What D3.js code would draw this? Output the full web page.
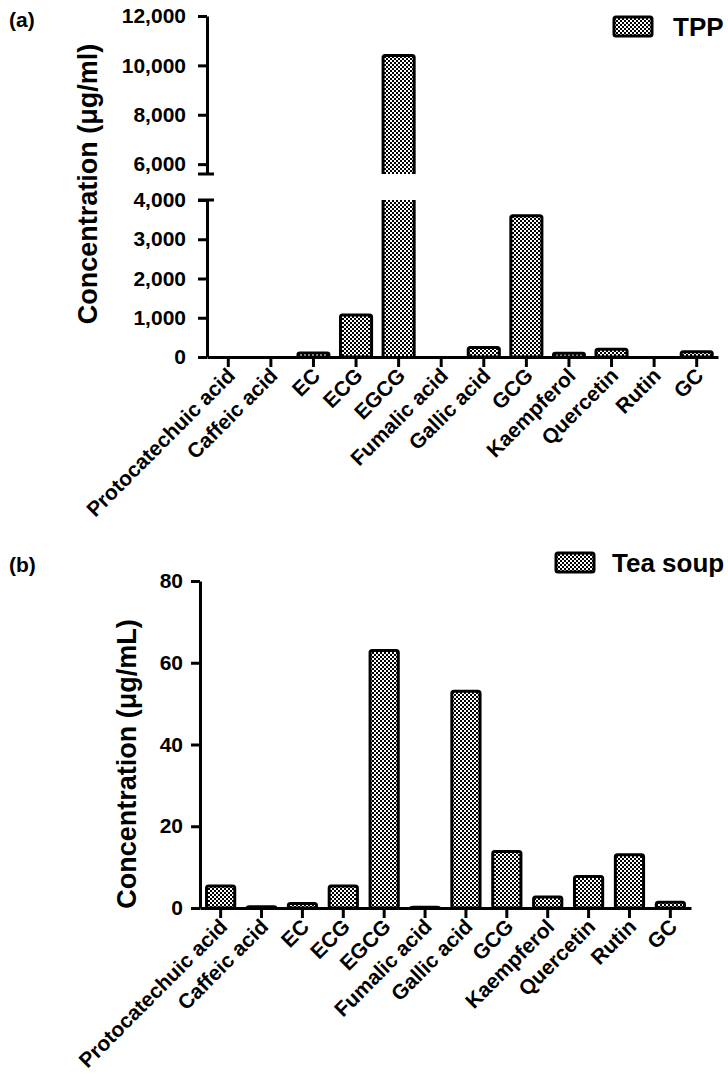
<!DOCTYPE html>
<html>
<head>
<meta charset="utf-8">
<script src="https://cdn.jsdelivr.net/npm/d3@7"></script>
<style>
  body { margin: 0; background: #fff; }
  svg text { font-family: "Liberation Sans", Arial, sans-serif; font-weight: bold; fill: #000; }
</style>
</head>
<body>
<svg id="chart" width="728" height="1074"></svg>
<script>
// compounds on the x axis (same for both panels)
const categories = ["Protocatechuic acid", "Caffeic acid", "EC", "ECG", "EGCG", "Fumalic acid",
  "Gallic acid", "GCG", "Kaempferol", "Quercetin", "Rutin", "GC"];

// panel (a) TPP, µg/ml
const tppValues = [0, 0, 100, 1070, 10400, 0, 240, 3600, 95, 200, 0, 135];
const tppLowTicks = [0, 1000, 2000, 3000, 4000];
const tppHighTicks = [6000, 8000, 10000, 12000];

// panel (b) tea soup, µg/mL
const soupValues = [5.4, 0.3, 1.1, 5.4, 63, 0.2, 53, 13.8, 2.7, 7.7, 13.0, 1.4];
const soupTicks = [0, 20, 40, 60, 80];

const svg = d3.select("#chart");
const fmt = d3.format(",");

// checkered fill used by bars and legend swatches
const pat = svg.append("defs").append("pattern")
  .attr("id", "checker")
  .attr("width", 4).attr("height", 4)
  .attr("patternUnits", "userSpaceOnUse");
pat.append("rect").attr("width", 4).attr("height", 4).attr("fill", "#fff");
pat.append("rect").attr("width", 2).attr("height", 2).attr("fill", "#000");
pat.append("rect").attr("x", 2).attr("y", 2).attr("width", 2).attr("height", 2).attr("fill", "#000");

function styleAxis(g) {
  g.selectAll(".domain").attr("stroke", "#000").attr("stroke-width", 3);
  g.selectAll(".tick line").attr("stroke", "#000").attr("stroke-width", 3);
  g.selectAll(".tick text").style("font-size", "21px");
}

function xLabels(g, x, y0) {
  g.selectAll(".xlab")
    .data(categories)
    .enter()
    .append("text")
    .attr("class", "xlab")
    .attr("transform", d => `translate(${x(d) + x.bandwidth() / 2 + 8},${y0 + 20}) rotate(-45)`)
    .attr("text-anchor", "end")
    .style("font-size", "21px")
    .text(d => d);
}

// ---------- panel (a) with broken y axis ----------
const a = svg.append("g");
const xA = d3.scaleBand().domain(categories).range([207, 718]).paddingInner(0.27).paddingOuter(0.135);
const yLow = d3.scaleLinear().domain([0, 4000]).range([357, 200]);
const yHigh = d3.scaleLinear().domain([5600, 12000]).range([174, 16]);

// bars
tppValues.forEach((v, i) => {
  const x0 = xA(categories[i]);
  const w = xA.bandwidth();
  if (v <= 4000) {
    a.append("rect")
      .attr("x", x0).attr("y", yLow(v))
      .attr("width", w).attr("height", yLow(0) - yLow(v))
      .attr("rx", 2)
      .attr("fill", "url(#checker)")
      .attr("stroke", "#000").attr("stroke-width", 3);
  } else {
    // lower piece, open at the top
    a.append("rect")
      .attr("x", x0).attr("y", yLow(4000))
      .attr("width", w).attr("height", yLow(0) - yLow(4000))
      .attr("fill", "url(#checker)");
    a.append("path")
      .attr("d", `M${x0},${yLow(4000)}V${yLow(0)}M${x0 + w},${yLow(4000)}V${yLow(0)}`)
      .attr("stroke", "#000").attr("stroke-width", 3).attr("fill", "none");
    // upper piece, open at the bottom
    a.append("rect")
      .attr("x", x0).attr("y", yHigh(v))
      .attr("width", w).attr("height", yHigh(5600) - yHigh(v))
      .attr("fill", "url(#checker)");
    a.append("path")
      .attr("d", `M${x0},${yHigh(5600)}V${yHigh(v) + 2}Q${x0},${yHigh(v)} ${x0 + 2},${yHigh(v)}H${x0 + w - 2}Q${x0 + w},${yHigh(v)} ${x0 + w},${yHigh(v) + 2}V${yHigh(5600)}`)
      .attr("stroke", "#000").attr("stroke-width", 3).attr("fill", "none");
  }
});

// y axes (two segments)
a.append("g")
  .attr("transform", "translate(207,0)")
  .call(d3.axisLeft(yLow).tickValues(tppLowTicks).tickFormat(fmt).tickSize(9).tickSizeOuter(0).tickPadding(12))
  .call(styleAxis);
a.append("g")
  .attr("transform", "translate(207,0)")
  .call(d3.axisLeft(yHigh).tickValues(tppHighTicks).tickFormat(fmt).tickSize(9).tickSizeOuter(0).tickPadding(12))
  .call(styleAxis);
// break caps
[yHigh(5600), yLow(4000)].forEach(yc => {
  a.append("line")
    .attr("x1", 198).attr("x2", 214).attr("y1", yc).attr("y2", yc)
    .attr("stroke", "#000").attr("stroke-width", 3);
});

// x axis
a.append("g")
  .attr("transform", "translate(0,357)")
  .call(d3.axisBottom(xA).tickSize(10).tickSizeOuter(0).tickFormat(""))
  .call(styleAxis);
xLabels(a, xA, 357);

a.append("text")
  .attr("transform", "translate(97,184) rotate(-90)")
  .attr("text-anchor", "middle")
  .style("font-size", "27px")
  .text("Concentration (μg/ml)");

a.append("text").attr("x", 9).attr("y", 27).style("font-size", "21px").text("(a)");

// legend (a)
a.append("rect")
  .attr("x", 614).attr("y", 17).attr("width", 38).attr("height", 19).attr("rx", 2)
  .attr("fill", "url(#checker)").attr("stroke", "#000").attr("stroke-width", 3);
a.append("text").attr("x", 673).attr("y", 36).style("font-size", "26px").text("TPP");

// ---------- panel (b) ----------
const b = svg.append("g");
const xB = d3.scaleBand().domain(categories).range([200, 691]).paddingInner(0.31).paddingOuter(0.16);
const yB = d3.scaleLinear().domain([0, 80]).range([908, 581]);

b.selectAll(".bar")
  .data(soupValues)
  .enter()
  .append("rect")
  .attr("class", "bar")
  .attr("x", (d, i) => xB(categories[i]))
  .attr("y", d => yB(d))
  .attr("width", xB.bandwidth())
  .attr("height", d => yB(0) - yB(d))
  .attr("rx", 2)
  .attr("fill", "url(#checker)")
  .attr("stroke", "#000").attr("stroke-width", 3);

b.append("g")
  .attr("transform", "translate(200,0)")
  .call(d3.axisLeft(yB).tickValues(soupTicks).tickSize(9).tickSizeOuter(0).tickPadding(8))
  .call(styleAxis);

b.append("g")
  .attr("transform", "translate(0,908)")
  .call(d3.axisBottom(xB).tickSize(10).tickSizeOuter(0).tickFormat(""))
  .call(styleAxis);
xLabels(b, xB, 908);

b.append("text")
  .attr("transform", "translate(136,764) rotate(-90)")
  .attr("text-anchor", "middle")
  .style("font-size", "27px")
  .text("Concentration (μg/mL)");

b.append("text").attr("x", 9).attr("y", 572).style("font-size", "21px").text("(b)");

// legend (b)
b.append("rect")
  .attr("x", 556).attr("y", 553).attr("width", 38).attr("height", 19).attr("rx", 2)
  .attr("fill", "url(#checker)").attr("stroke", "#000").attr("stroke-width", 3);
b.append("text").attr("x", 612).attr("y", 572).style("font-size", "26px").text("Tea soup");
</script>
</body>
</html>
